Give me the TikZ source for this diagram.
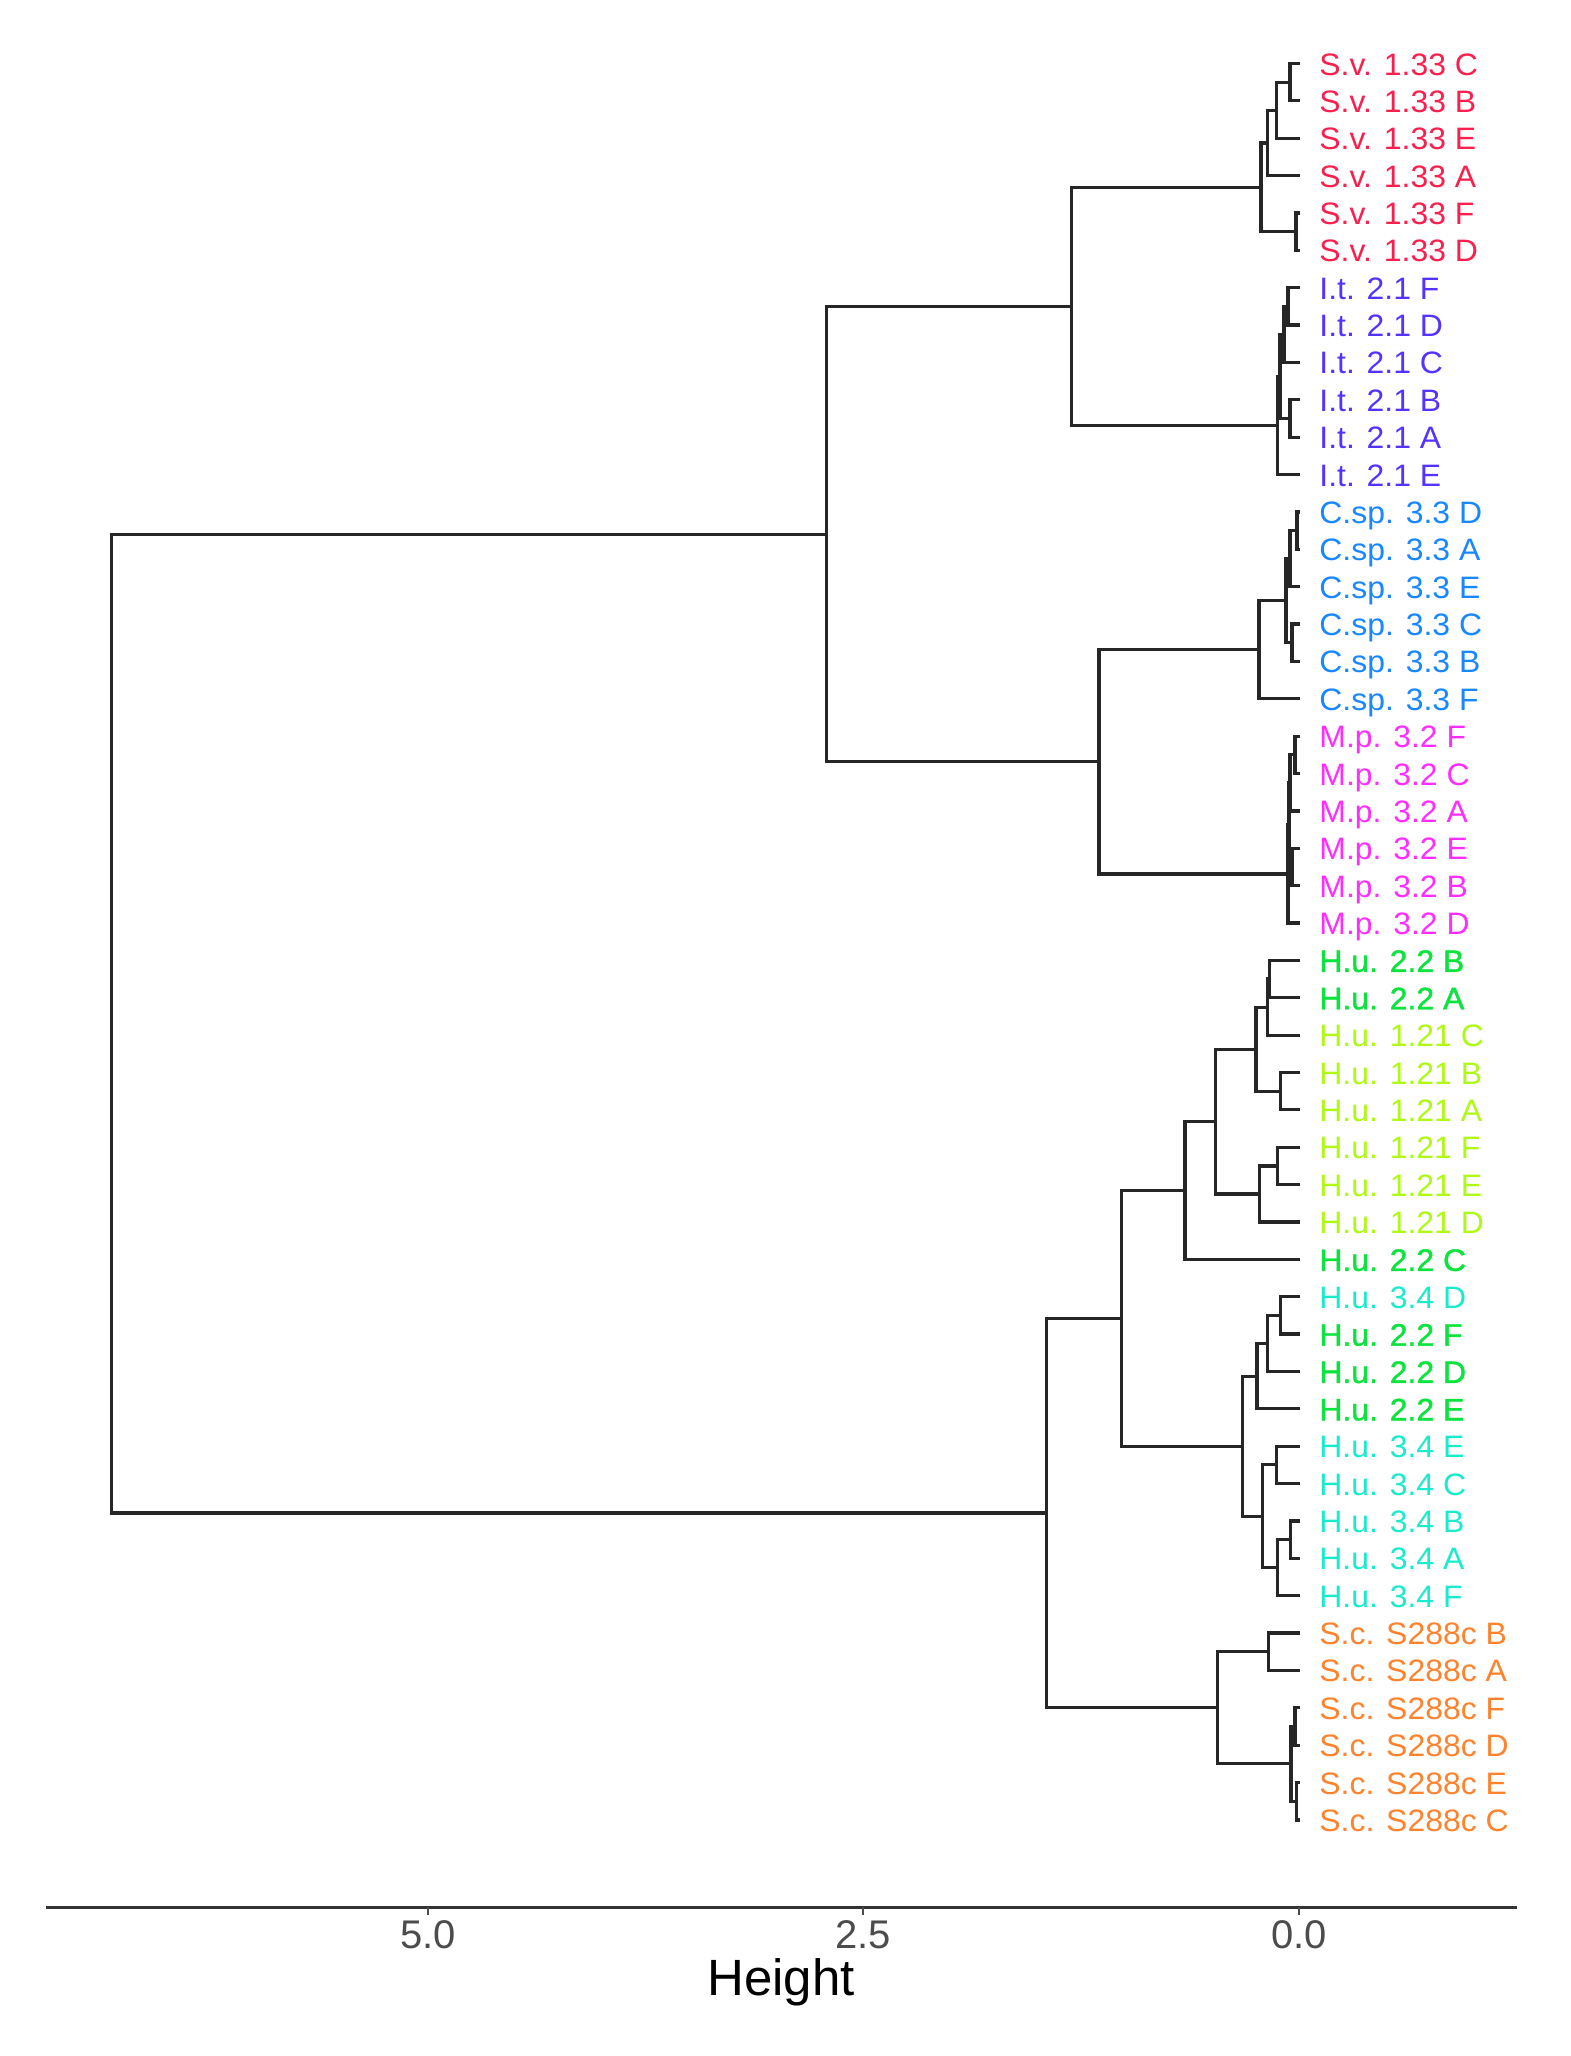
\documentclass[tikz,border=0pt]{standalone}
\usepackage{fontspec}
\usepackage{graphicx}
\setmainfont{Liberation Sans}
\newfontfamily\hubold[FakeBold=1.2]{Liberation Sans}
\usetikzlibrary{calc}
\definecolor{svcol}{RGB}{250,32,78}
\definecolor{itcol}{RGB}{85,50,255}
\definecolor{cspcol}{RGB}{25,135,255}
\definecolor{mpcol}{RGB}{255,45,255}
\definecolor{hbcol}{RGB}{10,228,60}
\definecolor{hycol}{RGB}{175,250,20}
\definecolor{htcol}{RGB}{25,235,205}
\definecolor{sccol}{RGB}{255,130,45}
\newcommand\dmerge[4]{%
  \coordinate (tmpm) at ($(#3)!0.5!(#4)$);
  \coordinate (tmpx) at (#2,0);
  \coordinate (#1) at (tmpx |- tmpm);
  \draw[branch] (#3) -| (#1) |- (#4);
}
\begin{document}
\begin{tikzpicture}[x=0.5pt,y=-0.5pt,
  branch/.style={line width=1.6pt,draw=black!85,line join=miter},
  lab/.style={anchor=base west,inner sep=0pt,font=\fontsize{15.5}{18}\selectfont},
  lsv/.style={text=svcol}, lit/.style={text=itcol}, lcs/.style={text=cspcol},
  lmp/.style={text=mpcol}, lhb/.style={text=hbcol,font=\fontsize{15.5}{18}\hubold},
  lhy/.style={text=hycol}, lht/.style={text=htcol}, lsc/.style={text=sccol},
  axisline/.style={line width=1.5pt,draw=black!80},
  ticklab/.style={text=black!70,font=\fontsize{20}{24}\selectfont,inner sep=0pt},
  titlelab/.style={text=black,font=\fontsize{25.5}{30}\selectfont,inner sep=0pt}]
\useasboundingbox[fill=white] (0,0) rectangle (1570,2056);
% leaves
\foreach \i/\t/\c in {
 0/{S.v. 1.33 C}/lsv, 1/{S.v. 1.33 B}/lsv, 2/{S.v. 1.33 E}/lsv, 3/{S.v. 1.33 A}/lsv,
 4/{S.v. 1.33 F}/lsv, 5/{S.v. 1.33 D}/lsv,
 6/{I.t. 2.1 F}/lit, 7/{I.t. 2.1 D}/lit, 8/{I.t. 2.1 C}/lit, 9/{I.t. 2.1 B}/lit,
 10/{I.t. 2.1 A}/lit, 11/{I.t. 2.1 E}/lit,
 12/{C.sp. 3.3 D}/lcs, 13/{C.sp. 3.3 A}/lcs, 14/{C.sp. 3.3 E}/lcs, 15/{C.sp. 3.3 C}/lcs,
 16/{C.sp. 3.3 B}/lcs, 17/{C.sp. 3.3 F}/lcs,
 18/{M.p. 3.2 F}/lmp, 19/{M.p. 3.2 C}/lmp, 20/{M.p. 3.2 A}/lmp, 21/{M.p. 3.2 E}/lmp,
 22/{M.p. 3.2 B}/lmp, 23/{M.p. 3.2 D}/lmp,
 24/{H.u. 2.2 B}/lhb, 25/{H.u. 2.2 A}/lhb, 26/{H.u. 1.21 C}/lhy, 27/{H.u. 1.21 B}/lhy,
 28/{H.u. 1.21 A}/lhy, 29/{H.u. 1.21 F}/lhy, 30/{H.u. 1.21 E}/lhy, 31/{H.u. 1.21 D}/lhy,
 32/{H.u. 2.2 C}/lhb, 33/{H.u. 3.4 D}/lht, 34/{H.u. 2.2 F}/lhb, 35/{H.u. 2.2 D}/lhb,
 36/{H.u. 2.2 E}/lhb, 37/{H.u. 3.4 E}/lht, 38/{H.u. 3.4 C}/lht, 39/{H.u. 3.4 B}/lht,
 40/{H.u. 3.4 A}/lht, 41/{H.u. 3.4 F}/lht,
 42/{S.c. S288c B}/lsc, 43/{S.c. S288c A}/lsc, 44/{S.c. S288c F}/lsc, 45/{S.c. S288c D}/lsc,
 46/{S.c. S288c E}/lsc, 47/{S.c. S288c C}/lsc}{
  \coordinate (l\i) at (1300,{63.5+37.37*\i});
  \node[lab,\c] (t\i) at (1319,{63.5+37.37*\i+11.5}) {\scalebox{1.03}[1]{\t}};
}
% S.v.
\dmerge{a1}{1290}{l0}{l1}
\dmerge{a2}{1276.7}{a1}{l2}
\dmerge{a3}{1267.3}{a2}{l3}
\dmerge{a4}{1296}{l4}{l5}
\dmerge{SV}{1261}{a3}{a4}
% I.t.
\dmerge{b1}{1288}{l6}{l7}
\dmerge{b2}{1284}{b1}{l8}
\dmerge{b3}{1290}{l9}{l10}
\dmerge{b4}{1280}{b2}{b3}
\dmerge{IT}{1277.5}{b4}{l11}
\dmerge{SI}{1071.6}{SV}{IT}
% C.sp.
\dmerge{c1}{1297}{l12}{l13}
\dmerge{c2}{1290}{c1}{l14}
\dmerge{c3}{1292}{l15}{l16}
\dmerge{c4}{1286}{c2}{c3}
\dmerge{CS}{1259}{c4}{l17}
% M.p.
\dmerge{d1}{1295}{l18}{l19}
\dmerge{d2}{1290}{d1}{l20}
\dmerge{d3}{1292}{l21}{l22}
\dmerge{d4}{1289}{d2}{d3}
\dmerge{MP}{1288}{d4}{l23}
\dmerge{CM}{1099}{CS}{MP}
\dmerge{SIC}{826.3}{SI}{CM}
% H.u. (1.21 / 2.2)
\dmerge{e1}{1269.3}{l24}{l25}
\dmerge{e2}{1267.3}{e1}{l26}
\dmerge{e3}{1280.7}{l27}{l28}
\dmerge{e4}{1256}{e2}{e3}
\dmerge{e5}{1277.7}{l29}{l30}
\dmerge{e6}{1259.3}{e5}{l31}
\dmerge{e7}{1215.7}{e4}{e6}
\dmerge{e8}{1185}{e7}{l32}
% H.u. (3.4 / 2.2)
\dmerge{f1}{1280.7}{l33}{l34}
\dmerge{f2}{1267.3}{f1}{l35}
\dmerge{f3}{1257}{f2}{l36}
\dmerge{f4}{1276.7}{l37}{l38}
\dmerge{f5}{1290.7}{l39}{l40}
\dmerge{f6}{1277.3}{f5}{l41}
\dmerge{f7}{1262.7}{f4}{f6}
\dmerge{f8}{1242.7}{f3}{f7}
\dmerge{HU}{1121.7}{e8}{f8}
% S.c.
\dmerge{g1}{1268.3}{l42}{l43}
\dmerge{g2}{1295}{l44}{l45}
\dmerge{g3}{1296.7}{l46}{l47}
\dmerge{g4}{1291}{g2}{g3}
\dmerge{SC}{1217.7}{g1}{g4}
\dmerge{HS}{1046.7}{HU}{SC}
% root
\dmerge{ROOT}{111.5}{SIC}{HS}
% axis
\coordinate (axL) at (46,1907);
\coordinate (axR) at (1517,1907);
\draw[axisline] (axL) -- (axR);
\foreach \v/\x/\n in {5.0/428/a, 2.5/863/b, 0.0/1299/c}{
  \coordinate (tk\n) at (\x,1907);
  \draw[line width=0.8pt,draw=black!70] (tk\n) -- ++(0,8);
  \node[ticklab] (tl\n) at (\x,1935) {\v};
}
\node[titlelab] (htitle) at (781,1982) {Height};
\end{tikzpicture}
\end{document}
